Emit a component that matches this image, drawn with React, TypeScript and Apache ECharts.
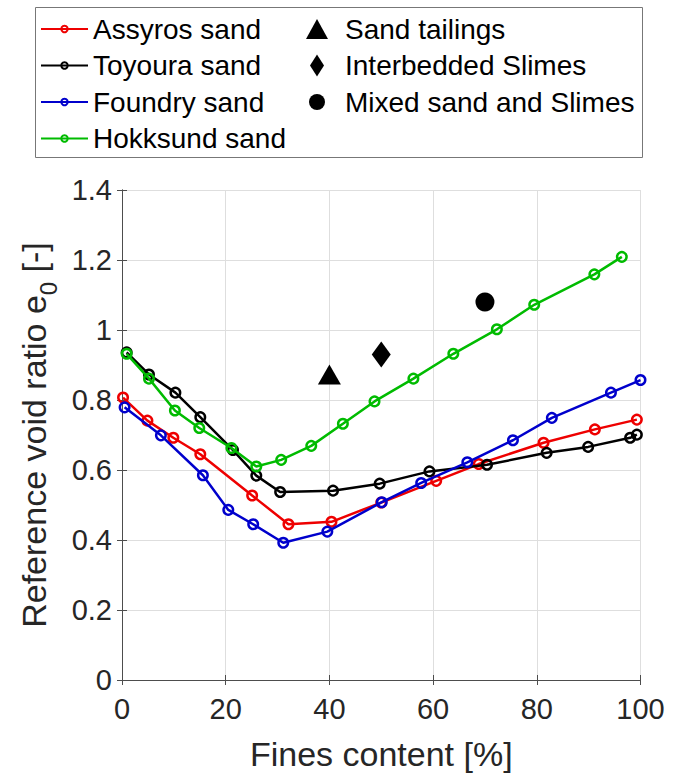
import React, { useEffect, useRef } from "react";
import * as echarts from "echarts";

const assyrosX = [0.2, 4.9, 9.9, 15.1, 25.1, 32.1, 40.4, 50, 60.6, 68.8, 81.3, 91.2, 99.3];
const assyrosY = [0.807, 0.741, 0.692, 0.645, 0.527, 0.445, 0.452, 0.507, 0.569, 0.617, 0.678, 0.716, 0.744];

const toyouraX = [0.9, 5.2, 10.3, 15.1, 21.4, 25.9, 30.5, 40.7, 49.7, 59.3, 70.4, 81.9, 89.9, 98, 99.3];
const toyouraY = [0.936, 0.873, 0.821, 0.751, 0.657, 0.584, 0.537, 0.541, 0.561, 0.596, 0.615, 0.649, 0.666, 0.692, 0.701];

const foundryX = [0.5, 7.5, 15.6, 20.5, 25.3, 31.1, 39.6, 50.1, 57.7, 66.6, 75.4, 82.9, 94.3, 100];
const foundryY = [0.779, 0.699, 0.585, 0.486, 0.445, 0.392, 0.424, 0.508, 0.563, 0.622, 0.685, 0.749, 0.821, 0.857];

const hokksundX = [0.9, 5.2, 10.2, 14.9, 21.1, 25.9, 30.7, 36.5, 42.6, 48.7, 56.2, 63.9, 72.3, 79.5, 91.1, 96.4];
const hokksundY = [0.932, 0.861, 0.770, 0.720, 0.663, 0.610, 0.629, 0.669, 0.732, 0.796, 0.861, 0.932, 1.002, 1.072, 1.159, 1.209];

const tailingsPt = [40, 0.873];
const interbeddedPt = [50, 0.93];
const mixedPt = [70, 1.08];

const lineNames = ["Assyros sand", "Toyoura sand", "Foundry sand", "Hokksund sand"];
const lineColors = ["#ee0000", "#000000", "#0000cc", "#00bb00"];
const scatterNames = ["Sand tailings", "Interbedded Slimes", "Mixed sand and Slimes"];

const FONT = "'Liberation Sans', Arial, Helvetica, sans-serif";
const TXT = "#262626";

function zip(xs: number[], ys: number[]) {
  return xs.map((x, i) => [x, ys[i]]);
}

export default function App() {
  const ref = useRef<HTMLDivElement>(null);
  useEffect(() => {
    document.body.style.margin = "0";
    const chart = echarts.init(ref.current!, null, { renderer: "svg" });
    const lineData = [
      zip(assyrosX, assyrosY),
      zip(toyouraX, toyouraY),
      zip(foundryX, foundryY),
      zip(hokksundX, hokksundY),
    ];
    const lineSeries = lineNames.map((n, i) => ({
      name: n,
      type: "line",
      data: lineData[i],
      symbol: "circle",
      symbolSize: 9.5,
      showAllSymbol: true,
      lineStyle: { color: lineColors[i], width: 2.5 },
      itemStyle: { color: "transparent", borderColor: lineColors[i], borderWidth: 2.5 },
      z: 3 + i,
    }));
    const scatterSymbols = ["triangle", "path://M7,0 L14,11 L7,22 L0,11 Z", "circle"];
    const scatterSizes: any[] = [[23, 20], [19, 26], 19];
    const scatterPts = [tailingsPt, interbeddedPt, mixedPt];
    const scatterSeries = scatterNames.map((n, i) => ({
      name: n,
      type: "scatter",
      data: [scatterPts[i]],
      symbol: scatterSymbols[i],
      symbolSize: scatterSizes[i],
      symbolKeepAspect: false,
      itemStyle: { color: "#000", opacity: 1 },
      z: 10,
    }));
    const legendIcons = [
      "path://M11,0 L22,20 L0,20 Z",
      "path://M7,0 L14,11 L7,22 L0,11 Z",
      "path://M8,0 A8,8 0 1,1 8,16 A8,8 0 1,1 8,0 Z",
    ];
    const legendHeights = [20, 22, 16];
    const iconWidths = [22, 14, 16];
    const rowCenters = [29, 65.5, 102];
    const scatterLegends = scatterNames.map((n, i) => ({
      orient: "vertical",
      left: 294 + (46 - iconWidths[i]) / 2,
      top: rowCenters[i] - 14,
      itemWidth: 46,
      itemHeight: legendHeights[i],
      padding: 0,
      data: [{ name: n, icon: legendIcons[i] }],
      itemStyle: { color: "#000", opacity: 1 },
      textStyle: { fontSize: 28, lineHeight: 28, fontFamily: FONT, color: "#000" },
      selectedMode: false,
    }));

    const axisCommon = {
      min: 0,
      axisLine: { show: true, lineStyle: { color: "#4d4d4d", width: 1 } },
      axisTick: { show: true, inside: true, length: 5, lineStyle: { color: "#4d4d4d" } },
    };

    chart.setOption({
      animation: false,
      backgroundColor: "#fff",
      grid: { left: 120.5, right: 42.5, top: 190, bottom: 89.5, containLabel: false },
      graphic: [
        {
          type: "rect",
          shape: { x: 35.5, y: 7.5, width: 607, height: 150 },
          style: { fill: "#fff", stroke: "#777", lineWidth: 1 },
          z: -1,
        },
      ],
      legend: [
        {
          orient: "vertical",
          left: 40,
          top: 15,
          itemWidth: 47,
          itemHeight: 8,
          itemGap: 8.5,
          padding: 0,
          data: lineNames,
          textStyle: { fontSize: 28, lineHeight: 28, fontFamily: FONT, color: "#000" },
          selectedMode: false,
        },
        ...scatterLegends,
      ],
      xAxis: [
        {
          ...axisCommon,
          type: "value",
          position: "bottom",
          max: 100,
          interval: 20,
          splitLine: { show: true, lineStyle: { color: "#dedede", width: 1 } },
          axisLabel: { fontSize: 29, fontFamily: FONT, color: TXT, margin: 14 },
          name: "Fines content [%]",
          nameLocation: "middle",
          nameGap: 57,
          nameTextStyle: { fontSize: 34, fontFamily: FONT, color: TXT },
        },
        {
          ...axisCommon,
          type: "value",
          position: "top",
          max: 100,
          interval: 20,
          splitLine: { show: false },
          axisLabel: { show: false },
        },
      ],
      yAxis: [
        {
          ...axisCommon,
          type: "value",
          position: "left",
          max: 1.4,
          interval: 0.2,
          splitLine: { show: true, lineStyle: { color: "#dedede", width: 1 } },
          axisLabel: { fontSize: 29, fontFamily: FONT, color: TXT, margin: 10 },
          name: "Reference void ratio e{sub|0} [-]",
          nameLocation: "middle",
          nameGap: 62,
          nameTextStyle: {
            fontSize: 34,
            fontFamily: FONT,
            color: TXT,
            lineHeight: 34,
            rich: {
              sub: { fontSize: 24, fontFamily: FONT, color: TXT, lineHeight: 52, verticalAlign: "bottom" },
            },
          },
        },
        {
          ...axisCommon,
          type: "value",
          position: "right",
          max: 1.4,
          interval: 0.2,
          splitLine: { show: false },
          axisLabel: { show: false },
        },
      ],
      series: [...lineSeries, ...scatterSeries],
    } as any);
    return () => chart.dispose();
  }, []);
  return (
    <div
      ref={ref}
      style={{ position: "absolute", left: 0, top: 0, width: 683, height: 776 }}
    />
  );
}
